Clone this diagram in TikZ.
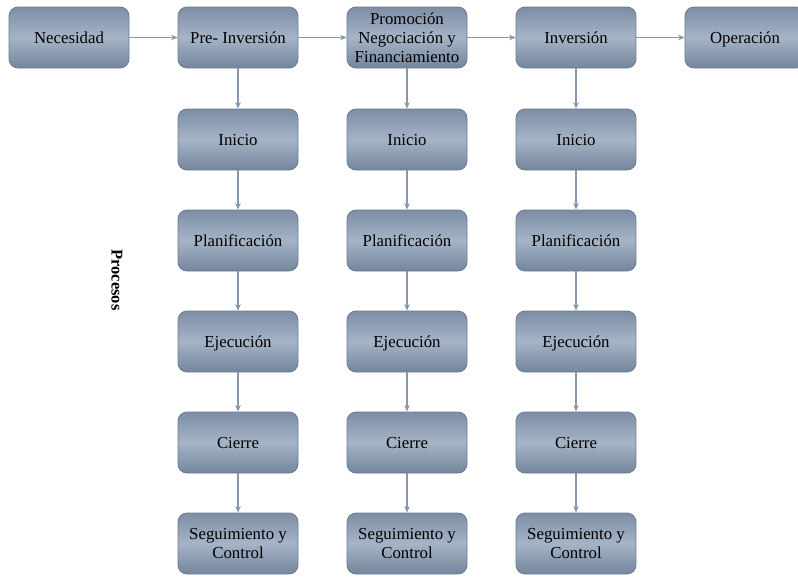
\documentclass[tikz,border=0pt]{standalone}
\usepackage{fontspec}
\setmainfont{Liberation Serif}
\usetikzlibrary{arrows.meta}
\definecolor{boxtop}{HTML}{7D8EA5}
\definecolor{boxmid}{HTML}{A5B4C6}
\definecolor{boxbot}{HTML}{74869D}
\definecolor{boxline}{HTML}{6A7B90}
\definecolor{arr}{HTML}{8797AC}
\tikzset{
  stepbox/.style={draw=boxline, line width=0.8pt, rounded corners=9pt,
    top color=boxtop, bottom color=boxbot, middle color=boxmid,
    minimum width=120pt, minimum height=61pt, inner sep=2pt,
    align=center, font=\fontsize{16.8}{19}\selectfont, text=black},
  one/.style={text height=14.5pt, text depth=2pt},
  conn/.style={draw=arr, line width=1.5pt, -{Stealth[length=6.5pt,width=5.5pt]}}
}
\begin{document}
\begin{tikzpicture}[x=1pt,y=-1pt]
\useasboundingbox (0,0) rectangle (798,576);
\begin{scope}
\clip (0,0) rectangle (798,576);
\node[stepbox,one] (nec) at (69,37.5) {Necesidad};
\node[stepbox,one] (pre) at (238,37.5) {Pre- Inversión};
\node[stepbox] (pro) at (407,37.5) {Promoción\\Negociación y\\Financiamiento};
\node[stepbox,one] (inv) at (576,37.5) {Inversión};
\node[stepbox,one] (ope) at (745,37.5) {Operación};
\end{scope}
\foreach \c/\x in {a/238,b/407,c/576}{
  \node[stepbox,one] (ini\c) at (\x,139.5) {Inicio};
  \node[stepbox,one] (pla\c) at (\x,240.5) {Planificación};
  \node[stepbox,one] (eje\c) at (\x,341.5) {Ejecución};
  \node[stepbox,one] (cie\c) at (\x,442.5) {Cierre};
  \node[stepbox] (seg\c) at (\x,543.5) {Seguimiento y\\Control};
  \draw[conn] (ini\c) -- (pla\c);
  \draw[conn] (pla\c) -- (eje\c);
  \draw[conn] (eje\c) -- (cie\c);
  \draw[conn] (cie\c) -- (seg\c);
}
\draw[conn] (nec) -- (pre);
\draw[conn] (pre) -- (pro);
\draw[conn] (pro) -- (inv);
\draw[conn] (inv) -- (ope.west);
\draw[conn] (pre) -- (inia);
\draw[conn] (pro) -- (inib);
\draw[conn] (inv) -- (inic);
\node[rotate=-90, font=\bfseries\fontsize{16.5}{19}\selectfont] (proc) at (117,280) {Procesos};
\end{tikzpicture}
\end{document}
